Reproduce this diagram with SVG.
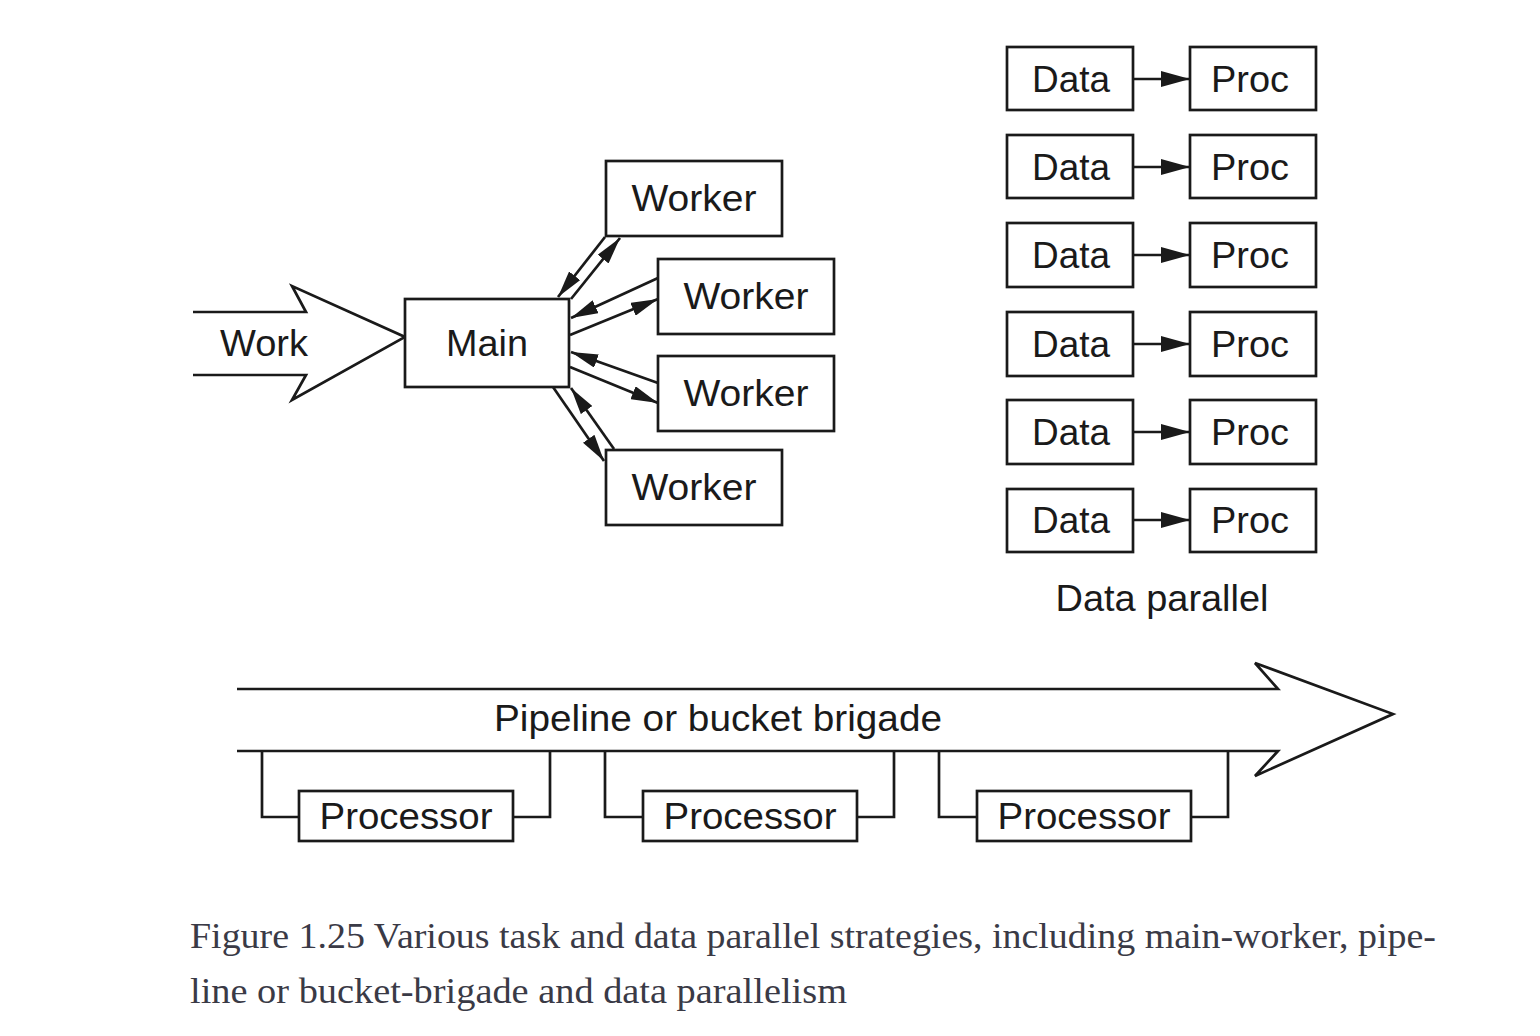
<svg xmlns="http://www.w3.org/2000/svg" width="1540" height="1036" viewBox="0 0 1540 1036">
<style>
.box{fill:#fff;stroke:#1a1a1a;stroke-width:2.7}
.ln{fill:none;stroke:#1a1a1a;stroke-width:2.7}
.lbl{font-family:"Liberation Sans",Arial,sans-serif;font-size:37px;fill:#1a1a1a;text-anchor:middle}
.cap{font-family:"Liberation Serif","DejaVu Serif",serif;font-size:36px;fill:#3a3a46}
</style>
<defs>
<marker id="ah" viewBox="0 0 27 14" refX="27" refY="7" markerWidth="27" markerHeight="14" markerUnits="userSpaceOnUse" orient="auto">
<path d="M0,0 L27,7 L0,14 z" fill="#1a1a1a"/>
</marker>
<marker id="ah2" viewBox="0 0 29 16" refX="29" refY="8" markerWidth="29" markerHeight="16" markerUnits="userSpaceOnUse" orient="auto">
<path d="M0,0 L29,8 L0,16 z" fill="#1a1a1a"/>
</marker>
</defs>
<rect width="1540" height="1036" fill="#fff"/>

<g id="connectors">
<line class="ln" x1="605" y1="237" x2="558" y2="297" marker-end="url(#ah)"/>
<line class="ln" x1="571" y1="299" x2="620" y2="238" marker-end="url(#ah)"/>
<line class="ln" x1="658" y1="278" x2="571" y2="318" marker-end="url(#ah)"/>
<line class="ln" x1="570" y1="335" x2="658" y2="299" marker-end="url(#ah)"/>
<line class="ln" x1="658" y1="383" x2="571" y2="352" marker-end="url(#ah)"/>
<line class="ln" x1="570" y1="367" x2="658" y2="403" marker-end="url(#ah)"/>
<line class="ln" x1="553" y1="387" x2="604" y2="461" marker-end="url(#ah)"/>
<line class="ln" x1="614" y1="449" x2="571" y2="388" marker-end="url(#ah)"/>
<line class="ln" x1="1133" y1="79" x2="1190" y2="79" marker-end="url(#ah2)"/>
<line class="ln" x1="1133" y1="167" x2="1190" y2="167" marker-end="url(#ah2)"/>
<line class="ln" x1="1133" y1="255" x2="1190" y2="255" marker-end="url(#ah2)"/>
<line class="ln" x1="1133" y1="344" x2="1190" y2="344" marker-end="url(#ah2)"/>
<line class="ln" x1="1133" y1="432" x2="1190" y2="432" marker-end="url(#ah2)"/>
<line class="ln" x1="1133" y1="520" x2="1190" y2="520" marker-end="url(#ah2)"/>
<path class="ln" d="M262,752 V817 H299 M513,817 H550 V752"/>
<path class="ln" d="M605,752 V817 H643 M857,817 H894 V752"/>
<path class="ln" d="M939,752 V817 H977 M1191,817 H1228 V752"/>
</g>

<g id="work">
<path class="ln" d="M193,312 H306 L292,286 L405,337 L292,400 L306,375 H193"/>
<text class="lbl" x="264" y="356" textLength="88" lengthAdjust="spacingAndGlyphs">Work</text>
</g>

<g id="main">
<rect class="box" x="405" y="299" width="164" height="88"/>
<text class="lbl" x="487" y="356" textLength="82" lengthAdjust="spacingAndGlyphs">Main</text>
</g>

<g id="worker1">
<rect class="box" x="606" y="161" width="176" height="75"/>
<text class="lbl" x="694" y="211" textLength="125" lengthAdjust="spacingAndGlyphs">Worker</text>
</g>
<g id="worker2">
<rect class="box" x="658" y="259" width="176" height="75"/>
<text class="lbl" x="746" y="309" textLength="125" lengthAdjust="spacingAndGlyphs">Worker</text>
</g>
<g id="worker3">
<rect class="box" x="658" y="356" width="176" height="75"/>
<text class="lbl" x="746" y="406" textLength="125" lengthAdjust="spacingAndGlyphs">Worker</text>
</g>
<g id="worker4">
<rect class="box" x="606" y="450" width="176" height="75"/>
<text class="lbl" x="694" y="500" textLength="125" lengthAdjust="spacingAndGlyphs">Worker</text>
</g>

<g id="data1"><rect class="box" x="1007" y="47" width="126" height="63"/><text class="lbl" x="1071" y="92" textLength="78" lengthAdjust="spacingAndGlyphs">Data</text></g>
<g id="proc1"><rect class="box" x="1190" y="47" width="126" height="63"/><text class="lbl" x="1250" y="92" textLength="78" lengthAdjust="spacingAndGlyphs">Proc</text></g>
<g id="data2"><rect class="box" x="1007" y="135" width="126" height="63"/><text class="lbl" x="1071" y="180" textLength="78" lengthAdjust="spacingAndGlyphs">Data</text></g>
<g id="proc2"><rect class="box" x="1190" y="135" width="126" height="63"/><text class="lbl" x="1250" y="180" textLength="78" lengthAdjust="spacingAndGlyphs">Proc</text></g>
<g id="data3"><rect class="box" x="1007" y="223" width="126" height="64"/><text class="lbl" x="1071" y="268" textLength="78" lengthAdjust="spacingAndGlyphs">Data</text></g>
<g id="proc3"><rect class="box" x="1190" y="223" width="126" height="64"/><text class="lbl" x="1250" y="268" textLength="78" lengthAdjust="spacingAndGlyphs">Proc</text></g>
<g id="data4"><rect class="box" x="1007" y="312" width="126" height="64"/><text class="lbl" x="1071" y="357" textLength="78" lengthAdjust="spacingAndGlyphs">Data</text></g>
<g id="proc4"><rect class="box" x="1190" y="312" width="126" height="64"/><text class="lbl" x="1250" y="357" textLength="78" lengthAdjust="spacingAndGlyphs">Proc</text></g>
<g id="data5"><rect class="box" x="1007" y="400" width="126" height="64"/><text class="lbl" x="1071" y="445" textLength="78" lengthAdjust="spacingAndGlyphs">Data</text></g>
<g id="proc5"><rect class="box" x="1190" y="400" width="126" height="64"/><text class="lbl" x="1250" y="445" textLength="78" lengthAdjust="spacingAndGlyphs">Proc</text></g>
<g id="data6"><rect class="box" x="1007" y="489" width="126" height="63"/><text class="lbl" x="1071" y="533" textLength="78" lengthAdjust="spacingAndGlyphs">Data</text></g>
<g id="proc6"><rect class="box" x="1190" y="489" width="126" height="63"/><text class="lbl" x="1250" y="533" textLength="78" lengthAdjust="spacingAndGlyphs">Proc</text></g>
<text class="lbl" x="1162" y="611" textLength="213" lengthAdjust="spacingAndGlyphs">Data parallel</text>

<g id="pipeline">
<path class="ln" d="M237,689 H1278 L1255,663 L1393,714 L1255,776 L1278,751 H237"/>
<text class="lbl" x="718" y="731" textLength="448" lengthAdjust="spacingAndGlyphs">Pipeline or bucket brigade</text>
</g>

<g id="processor1"><rect class="box" x="299" y="791" width="214" height="50"/><text class="lbl" x="406" y="829" textLength="173" lengthAdjust="spacingAndGlyphs">Processor</text></g>
<g id="processor2"><rect class="box" x="643" y="791" width="214" height="50"/><text class="lbl" x="750" y="829" textLength="173" lengthAdjust="spacingAndGlyphs">Processor</text></g>
<g id="processor3"><rect class="box" x="977" y="791" width="214" height="50"/><text class="lbl" x="1084" y="829" textLength="173" lengthAdjust="spacingAndGlyphs">Processor</text></g>

<g id="caption">
<text class="cap" x="190" y="948" textLength="1246" lengthAdjust="spacingAndGlyphs">Figure 1.25 Various task and data parallel strategies, including main-worker, pipe-</text>
<text class="cap" x="190" y="1003" textLength="657" lengthAdjust="spacingAndGlyphs">line or bucket-brigade and data parallelism</text>
</g>
</svg>
